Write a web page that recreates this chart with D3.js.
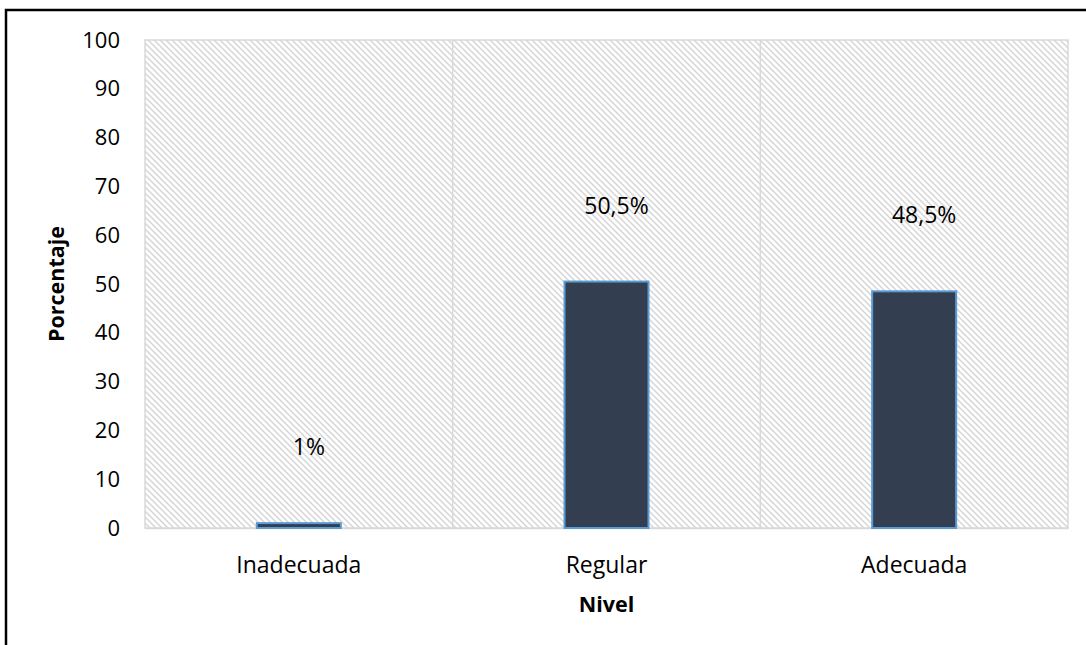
<!DOCTYPE html>
<html><head><meta charset="utf-8">
<script src="https://cdn.jsdelivr.net/npm/d3@7"></script>
<style>body{margin:0;background:#fff;} svg{display:block;}</style>
</head><body>
<svg id="c" width="1086" height="645"></svg>
<script>
const categories = ["Inadecuada", "Regular", "Adecuada"];
const values = [1, 50.5, 48.5];
const valueLabels = ["1%", "50,5%", "48,5%"];
const yTicks = [0,10,20,30,40,50,60,70,80,90,100];

const svg = d3.select("#c");
const font = "'Open Sans', sans-serif";
const m = {left:145, right:1068, top:40, bottom:528};

// outer border (clipped on right and bottom)
svg.append("path").attr("d","M6,647 L6,10 L1090,10").attr("fill","none").attr("stroke","#000").attr("stroke-width",2.5);

const defs = svg.append("defs");
const pat = defs.append("pattern").attr("id","hatch").attr("patternUnits","userSpaceOnUse")
  .attr("width",6).attr("height",6);
pat.append("rect").attr("width",6).attr("height",6).attr("fill","#fff");
pat.append("path").attr("d","M-1,-1 L7,7 M-1,5 L1,7 M5,-1 L7,1").attr("stroke","#d6d6d6").attr("stroke-width",1.5);

const x = d3.scaleBand().domain(categories).range([m.left, m.right]).paddingInner(0).paddingOuter(0);
const y = d3.scaleLinear().domain([0,100]).range([m.bottom, m.top]);

svg.append("rect").attr("x",m.left).attr("y",m.top).attr("width",m.right-m.left).attr("height",m.bottom-m.top)
  .attr("fill","url(#hatch)").attr("stroke","#d9d9d9").attr("stroke-width",1.5);

// category separators
svg.append("g").selectAll("line").data(categories.slice(1)).join("line")
  .attr("x1",d=>x(d)).attr("x2",d=>x(d)).attr("y1",m.top).attr("y2",m.bottom)
  .attr("stroke","#d9d9d9").attr("stroke-width",1.5);

// y axis
const ya = svg.append("g").attr("transform",`translate(${m.left},0)`)
  .call(d3.axisLeft(y).tickValues(yTicks).tickSize(0).tickPadding(25));
ya.select(".domain").remove();
ya.selectAll("text").attr("font-family",font).attr("font-size",22).attr("fill","#000");

// x axis
const xa = svg.append("g").attr("transform",`translate(0,${m.bottom})`)
  .call(d3.axisBottom(x).tickSize(0));
xa.select(".domain").attr("stroke","#d9d9d9").attr("stroke-width",1.5);
xa.selectAll("text").attr("font-family",font).attr("font-size",23).attr("fill","#000")
  .attr("y",45).attr("dy",0);

// bars
const bw = 84;
svg.append("g").selectAll("rect").data(values).join("rect")
  .attr("x",(d,i)=>x(categories[i])+x.bandwidth()/2-bw/2)
  .attr("width",bw)
  .attr("y",d=>y(d))
  .attr("height",d=>y(0)-y(d))
  .attr("fill","#333f50").attr("stroke","#5b9bd5").attr("stroke-width",2);

// value labels
svg.append("g").selectAll("text").data(values).join("text")
  .attr("x",(d,i)=>x(categories[i])+x.bandwidth()/2+10)
  .attr("y",d=>y(d)-77)
  .attr("text-anchor","middle").attr("dominant-baseline","central")
  .attr("font-family",font).attr("font-size",23).attr("fill","#000")
  .text((d,i)=>valueLabels[i]);

// axis titles
svg.append("text").attr("x",(m.left+m.right)/2).attr("y",612).attr("text-anchor","middle")
  .attr("font-family",font).attr("font-weight","bold").attr("font-size",21.5).text("Nivel");
svg.append("text").attr("transform",`translate(58,${(m.top+m.bottom)/2}) rotate(-90)`).attr("text-anchor","middle")
  .attr("dominant-baseline","middle").attr("font-family",font).attr("font-weight","bold").attr("font-size",21.5).text("Porcentaje");
</script>
</body></html>
